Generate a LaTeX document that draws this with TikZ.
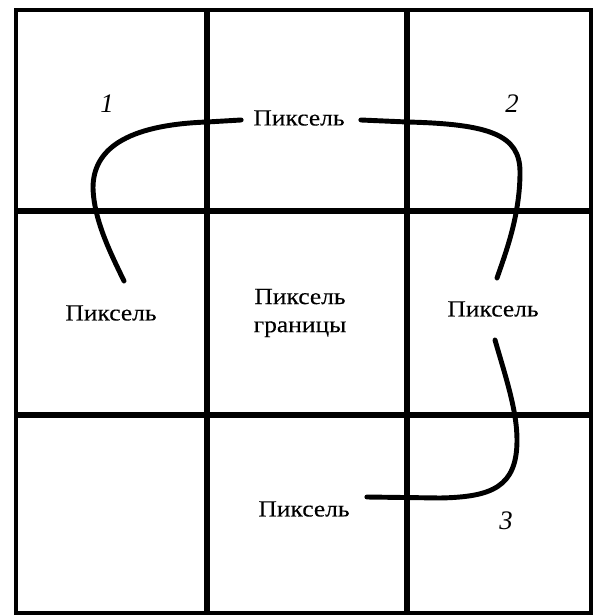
\documentclass[tikz,border=0pt]{standalone}
\usepackage{fontspec}
\setmainfont{Liberation Serif}
\newfontfamily\pixfont[FakeStretch=1.1,FakeBold=0.15]{Liberation Serif}
\usetikzlibrary{calc}

\begin{document}
\begin{tikzpicture}[x=0.025cm,y=-0.025cm,line cap=round,
  pix/.style={font=\pixfont\fontsize{16.5}{20}\selectfont,inner sep=0pt,align=center},
  num/.style={font=\fontsize{19}{22}\selectfont\itshape,inner sep=0pt},
  trace/.style={line width=3.5pt}]
\useasboundingbox (0,0) rectangle (594,615);
\draw[line width=3.2pt,line cap=butt] (16,10) rectangle (591,613);
\draw[line width=3.9pt,line cap=butt] (207,10) -- (207,613);
\draw[line width=3.9pt,line cap=butt] (407,10) -- (407,613);
\draw[line width=4.6pt,line cap=butt] (16,211) -- (591,211);
\draw[line width=4.6pt,line cap=butt] (16,415) -- (591,415);
\node[pix] (ptop) at (299,118) {Пиксель};
\node[pix] (pleft) at (111,313) {Пиксель};
\node[pix] (pmid) at (300,313) {Пиксель\\границы};
\node[pix] (pright) at (493,309) {Пиксель};
\node[pix] (pbot) at (304,509) {Пиксель};
\node[num] (n1) at (107,104) {1};
\node[num] (n2) at (512,104) {2};
\node[num] (n3) at (506,521) {3};
\draw[trace] ($(ptop.west)+(-12,2)$) -- (207,122) .. controls (125,125) and (93,150) .. (93,188)
  .. controls (94,220) and (110,252) .. ($(pleft.north)+(13,-24)$);
\draw[trace] ($(ptop.east)+(16,2)$) -- (407,122) .. controls (490,124) and (520,135) .. (520,172)
  .. controls (520,215) and (506,252) .. ($(pright.north)+(4,-23)$);
\draw[trace] ($(pright.south)+(2,23)$) .. controls (505,375) and (517,410) .. (517,440)
  .. controls (517,487) and (492,497) .. (440,498) -- ($(pbot.east)+(17,-12)$);
\end{tikzpicture}
\end{document}
